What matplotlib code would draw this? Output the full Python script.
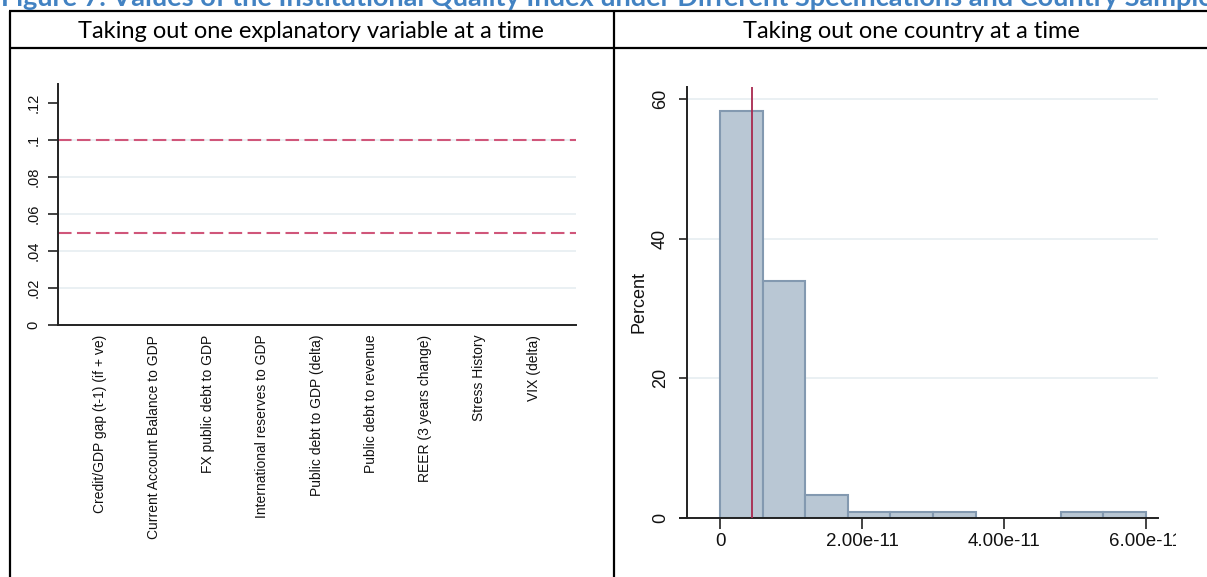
import matplotlib
matplotlib.use("Agg")
import matplotlib.pyplot as plt
from matplotlib.lines import Line2D
from matplotlib.patches import Rectangle
import numpy as np

# ---- data -------------------------------------------------------------
variables = [
    "Credit/GDP gap (t-1) (if + ve)",
    "Current Account Balance to GDP",
    "FX public debt to GDP",
    "International reserves to GDP",
    "Public debt to GDP (delta)",
    "Public debt to revenue",
    "REER (3 years change)",
    "Stress History",
    "VIX (delta)",
]
pvalues_dropvar = [0.0, 0.0, 0.0, 0.0, 0.0, 0.0, 0.0, 0.0, 0.0]
sig_levels = [0.05, 0.1]
left_yticks = [0, 0.02, 0.04, 0.06, 0.08, 0.1, 0.12]
left_yticklabels = ["0", ".02", ".04", ".06", ".08", ".1", ".12"]

bin_edges = [0.0, 0.6e-11, 1.2e-11, 1.8e-11, 2.4e-11, 3.0e-11,
             3.6e-11, 4.2e-11, 4.8e-11, 5.4e-11, 6.0e-11]
bin_percent = [58.3, 33.9, 3.3, 0.8, 0.8, 0.8, 0.0, 0.0, 0.8, 0.8]
full_sample_pvalue = 4.45e-12
right_xticks = [0, 2e-11, 4e-11, 6e-11]
right_xticklabels = ["0", "2.00e-11", "4.00e-11", "6.00e-11"]
right_yticks = [0, 20, 40, 60]

title_text = ("Figure 7. Values of the Institutional Quality Index under "
              "Different Specifications and Country Samples")
header_left = "Taking out one explanatory variable at a time"
header_right = "Taking out one country at a time"

# ---- figure -----------------------------------------------------------
W, H = 1207, 577
fig = plt.figure(figsize=(W / 100, H / 100), dpi=100)
fig.patch.set_facecolor("white")


def fx(px):
    return px / W


def fy(py):
    return 1 - py / H


stata_font = "Liberation Sans"
text_col = "#111111"
grid_col = "#e6eef1"

# table frame
frame_kw = dict(color="black", lw=1.6, transform=fig.transFigure, solid_capstyle="butt")
fig.add_artist(Line2D([fx(9), 1], [fy(11), fy(11)], **frame_kw))
fig.add_artist(Line2D([fx(9), 1], [fy(48), fy(48)], **frame_kw))
fig.add_artist(Line2D([fx(9.5), fx(9.5)], [fy(11), 0], **frame_kw))
fig.add_artist(Line2D([fx(614), fx(614)], [fy(11), 0], **frame_kw))

# figure caption (runs off the top edge of the page crop) and column headers
fig.text(fx(1), fy(6.5), title_text, family="Lato", weight="bold", fontsize=19.5,
         color="#4282c2", ha="left", va="baseline")
fig.text(fx(311), fy(31), header_left, family="Lato", fontsize=17,
         color="black", ha="center", va="center")
fig.text(fx(911), fy(31), header_right, family="Lato", fontsize=17,
         color="black", ha="center", va="center")

# ---- left panel: p-values when dropping one variable -------------------
axL = fig.add_axes([fx(58.3), fy(325), fx(576 - 58.3), (325 - 84) / H])
pos = np.arange(len(variables))
axL.bar(pos, pvalues_dropvar, width=0.6, color="#1a476f", linewidth=0)
axL.set_xlim(-0.76, len(variables) - 1 + 0.78)
axL.set_ylim(0, 0.1303)
for v in left_yticks[1:-1]:
    axL.axhline(v, color=grid_col, lw=1.2, zorder=0)
for s in sig_levels:
    axL.axhline(s, color="#d0567a", lw=1.5, linestyle=(0, (6.5, 2.6)), zorder=2)
axL.set_yticks(left_yticks)
axL.set_yticklabels(left_yticklabels, rotation=90, va="center",
                    family=stata_font, fontsize=10.5, color=text_col)
axL.set_xticks(pos)
axL.set_xticklabels(variables, rotation=90, va="top", ha="center",
                    family=stata_font, fontsize=10, color=text_col)
axL.tick_params(axis="y", length=7, width=1.2, pad=6, color="#222222")
axL.tick_params(axis="x", length=0, pad=7)
for side in ("top", "right"):
    axL.spines[side].set_visible(False)
for side in ("left", "bottom"):
    axL.spines[side].set_linewidth(1.4)
    axL.spines[side].set_color("#222222")
axL.set_facecolor("white")

# ---- right panel: histogram over country samples -----------------------
axR = fig.add_axes([fx(687), fy(518), fx(1158 - 687), (518 - 86.7) / H])
edges = np.array(bin_edges)
heights = np.array(bin_percent)
keep = heights > 0
axR.bar(edges[:-1][keep], heights[keep], width=np.diff(edges)[keep], align="edge",
        color="#b9c7d4", edgecolor="#8399b0", linewidth=1.5, zorder=2)
axR.axvline(full_sample_pvalue, color="#a8294f", lw=1.3, zorder=3)
axR.set_xlim(-0.465e-11, 6.17e-11)
axR.set_ylim(0, 61.8)
for v in right_yticks[1:]:
    axR.axhline(v, color=grid_col, lw=1.2, zorder=0)
axR.set_yticks(right_yticks)
axR.set_yticklabels([str(v) for v in right_yticks], rotation=90, va="center",
                    family=stata_font, fontsize=13, color=text_col)
axR.set_xticks(right_xticks)
axR.set_xticklabels(right_xticklabels, family=stata_font, fontsize=13.5,
                    color=text_col)
axR.set_ylabel("Percent", family=stata_font, fontsize=13, color=text_col,
               labelpad=3)
axR.tick_params(axis="y", length=6, width=1.2, pad=7, color="#222222")
axR.tick_params(axis="x", length=8, width=1.2, pad=3, color="#222222")
for side in ("top", "right"):
    axR.spines[side].set_visible(False)
for side in ("left", "bottom"):
    axR.spines[side].set_linewidth(1.4)
    axR.spines[side].set_color("#222222")
# x axis line runs a few pixels past the y axis, as in the Stata layout
axR.add_line(Line2D([-0.015, 0], [0, 0], transform=axR.transAxes, color="#222222",
                    lw=1.4, clip_on=False))

# the embedded graph image is cropped at its right edge
fig.add_artist(Rectangle((fx(1176), 0), 1 - fx(1176), fy(500), transform=fig.transFigure,
                         facecolor="white", edgecolor="none", zorder=10))

fig.savefig("out.png", dpi=100)
